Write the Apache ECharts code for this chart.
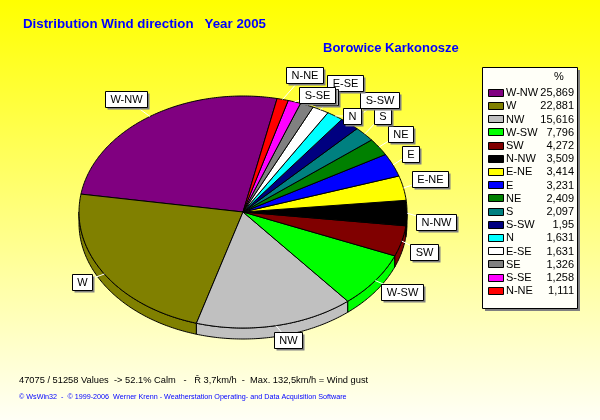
<!DOCTYPE html>
<html><head><meta charset="utf-8">
<script src="https://cdn.jsdelivr.net/npm/echarts/dist/echarts.min.js"></script>
<style>html,body{margin:0;padding:0;background:#fff;}#c{width:600px;height:420px;}</style>
</head><body><div id="c"></div>
<script>
// ---- data ----
const directions = ['W-NW','W','NW','W-SW','SW','N-NW','E-NE','E','NE','S','S-SW','N','E-SE','SE','S-SE','N-NE'];
const percents = [25.869,22.881,15.616,7.796,4.272,3.509,3.414,3.231,2.409,2.097,1.95,1.631,1.631,1.326,1.258,1.111];
const titleText = 'Distribution Wind direction   Year 2005';
const stationText = 'Borowice Karkonosze';
const summaryText = '47075 / 51258 Values  -> 52.1% Calm   -   \u0158 3,7km/h  -  Max. 132,5km/h = Wind gust';
const creditText = '\u00A9 WsWin32  -  \u00A9 1999-2006  Werner Krenn - Weatherstation Operating- and Data Acquisition Software';
const legendHeader = '%';

// ---- styles / layout ----
const sliceColors = ['#800080','#808000','#C0C0C0','#00FF00','#800000','#000000','#FFFF00','#0000FF','#008000','#008080','#000080','#00FFFF','#FFFFFF','#808080','#FF00FF','#FF0000'];
const labelAt = [[126,99],[82,282],[288,340],[402,292],[424,252],[436,222],[430,179],[410,154],[400,134],[382,116],[379,100],[352,116],[345,83],[325,97],[317,95],[304,75]];
const FONT = '"Liberation Sans", Arial, sans-serif';
const CX = 243, CY = 212, RX = 164, RY = 116, DEPTH = 11, START = 78;
const LEG = {x: 482, y: 67, w: 95, h: 241, row0: 92.7, rowH: 13.2};

const mctx = document.createElement('canvas').getContext('2d');
function textW(t, font) { mctx.font = font; return mctx.measureText(t).width; }
function pt(deg, dy) { const r = deg * Math.PI / 180; return [CX + RX * Math.cos(r), CY - RY * Math.sin(r) + (dy || 0)]; }
function arc(a0, a1, dy) {
  const pts = []; const n = Math.max(2, Math.ceil((a1 - a0) / 0.75));
  for (let i = 0; i <= n; i++) pts.push(pt(a0 + (a1 - a0) * i / n, dy));
  return pts;
}
const total = percents.reduce((a, b) => a + b, 0);

const chart = echarts.init(document.getElementById('c'), null, {renderer: 'canvas'});

function renderItem(params, api) {
  const i = params.dataIndex;
  const v = api.value(0);
  let before = 0; for (let k = 0; k < i; k++) before += percents[k];
  const a0 = START + before / total * 360, a1 = a0 + v / total * 360;
  const color = sliceColors[i];
  const children = [];
  const s = Math.max(a0, 180), e = Math.min(a1, 360);
  if (e > s) {
    const top = arc(s, e, 0), bot = arc(s, e, DEPTH).reverse();
    children.push({type: 'polygon', z2: 1, shape: {points: top.concat(bot)}, style: {fill: color, stroke: '#000', lineWidth: 1}});
  }
  children.push({type: 'polygon', z2: 2, shape: {points: [[CX, CY]].concat(arc(a0, a1, 0))}, style: {fill: color, stroke: '#000', lineWidth: 1}});
  // leader + label
  const mid = (a0 + a1) / 2, p = pt(mid, 0), lp = labelAt[i];
  children.push({type: 'line', z2: 3, shape: {x1: p[0], y1: p[1], x2: lp[0], y2: lp[1]}, style: {stroke: '#FFFFFF', lineWidth: 1}});
  const lf = '11px ' + FONT;
  const bw = Math.round(textW(directions[i], lf) + 10), bh = 16;
  const bx = Math.round(lp[0] - bw / 2) + 0.5, by = Math.round(lp[1] - bh / 2) + 0.5;
  children.push({type: 'rect', z2: 10 + i * 3, shape: {x: bx + 2, y: by + 2, width: bw, height: bh}, style: {fill: '#808080'}});
  children.push({type: 'rect', z2: 11 + i * 3, shape: {x: bx, y: by, width: bw, height: bh}, style: {fill: '#FFFFFF', stroke: '#000', lineWidth: 1}});
  children.push({type: 'text', z2: 12 + i * 3, style: {text: directions[i], x: bx + bw / 2, y: by + bh / 2 + 0.5, align: 'center', verticalAlign: 'middle', font: lf, fill: '#000'}});
  // legend row
  const ry = LEG.row0 + LEG.rowH * i;
  children.push({type: 'rect', z2: 100, shape: {x: 488.5, y: Math.round(ry - 4) + 0.5, width: 15, height: 7}, style: {fill: color, stroke: '#000', lineWidth: 1}});
  children.push({type: 'text', z2: 100, style: {text: directions[i], x: 506, y: ry + 0.5, align: 'left', verticalAlign: 'middle', font: lf, fill: '#000'}});
  children.push({type: 'text', z2: 100, style: {text: String(v).replace('.', ','), x: 574, y: ry + 0.5, align: 'right', verticalAlign: 'middle', font: lf, fill: '#000'}});
  return {type: 'group', children: children};
}

chart.setOption({
  animation: false,
  backgroundColor: new echarts.graphic.LinearGradient(0, 0, 0, 1, [{offset: 0, color: '#FFFF00'}, {offset: 1, color: '#FFFFF6'}]),
  graphic: [
    {type: 'text', left: 23, top: 18, style: {text: titleText, font: 'bold 13.3px ' + FONT, fill: '#0000FF'}},
    {type: 'text', left: 323, top: 42, style: {text: stationText, font: 'bold 13px ' + FONT, fill: '#0000FF'}},
    {type: 'rect', z: -1, shape: {x: LEG.x + 3, y: LEG.y + 3, width: LEG.w, height: LEG.h}, style: {fill: '#808080'}},
    {type: 'rect', z: -1, shape: {x: LEG.x + 0.5, y: LEG.y + 0.5, width: LEG.w, height: LEG.h}, style: {fill: '#FFFFF8', stroke: '#000', lineWidth: 1}},
    {type: 'text', x: 559, y: 77, style: {text: legendHeader, font: '11px ' + FONT, fill: '#000', align: 'center', verticalAlign: 'middle'}},
    {type: 'text', left: 19, top: 376, style: {text: summaryText, font: '9.3px ' + FONT, fill: '#000'}},
    {type: 'text', left: 19, top: 394, style: {text: creditText, font: '7.2px ' + FONT, fill: '#0000FF'}}
  ],
  series: [{
    type: 'custom',
    coordinateSystem: 'none',
    silent: true,
    data: percents.map(v => [v]),
    renderItem: renderItem
  }]
});
</script>
</body></html>
